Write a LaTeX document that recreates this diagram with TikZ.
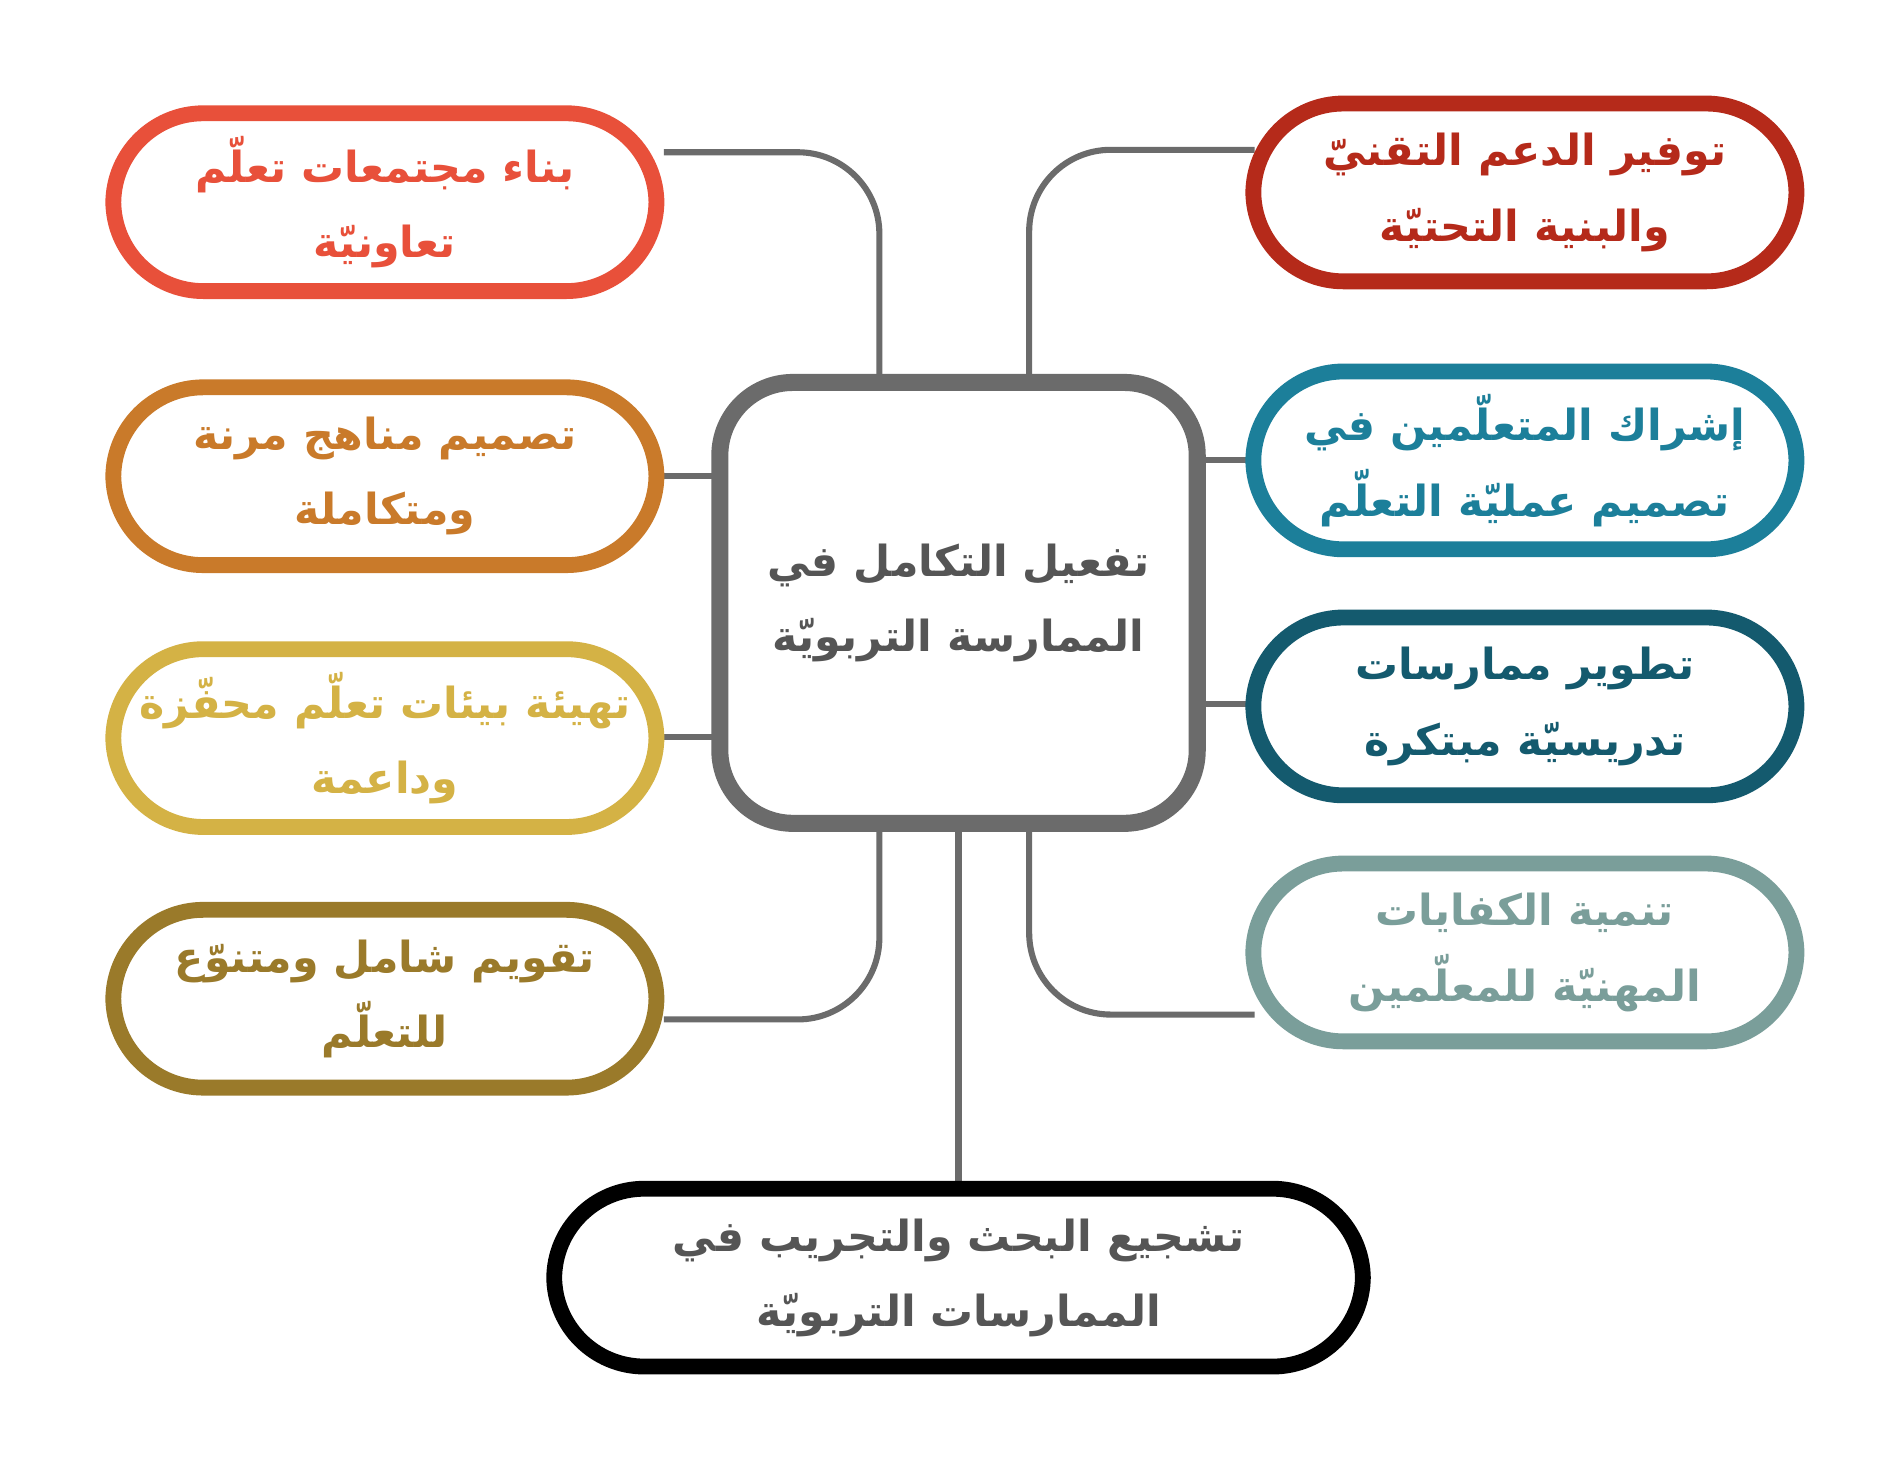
\documentclass[tikz,border=0pt]{standalone}
\usepackage{fontspec}
\TeXXeTstate=1
\newfontfamily\arabicfont[Script=Arabic]{DejaVu Sans}
\newcommand\AR[1]{\beginR #1\endR}
\definecolor{cC}{HTML}{6B6B6B}
\definecolor{cL1}{HTML}{E8503A}
\definecolor{cL2}{HTML}{C97A2A}
\definecolor{cL3}{HTML}{D4B245}
\definecolor{cL4}{HTML}{9A7A2A}
\definecolor{cR1}{HTML}{B52A1A}
\definecolor{cR2}{HTML}{1C7F9A}
\definecolor{cR3}{HTML}{145A6E}
\definecolor{cR4}{HTML}{7A9E9A}
\definecolor{cB}{HTML}{555555}
\begin{document}
\begin{tikzpicture}[x=0.05cm,y=-0.05cm,
  pill/.style={draw=#1,text=#1,line width=0.65cm,rectangle,rounded corners=3.7cm,
    minimum width=22.3cm,minimum height=7.3cm,align=center,fill=white,
    font=\arabicfont\bfseries\fontsize{50}{88}\selectfont},
  conn/.style={draw=cC,line width=0.25cm}]
\useasboundingbox[fill=white] (0,0) rectangle (1560,1206);
% connectors
\coordinate (a1) at (545,125); \coordinate (a2) at (1030,123);
\coordinate (a3) at (545,837); \coordinate (a4) at (1030,833);
\draw[conn,rounded corners=3.35cm] (a1) -- (722,125) -- (722,308);
\draw[conn,rounded corners=3.35cm] (a2) -- (845,123) -- (845,308);
\draw[conn,rounded corners=3.35cm] (a3) -- (722,837) -- (722,682);
\draw[conn,rounded corners=3.35cm] (a4) -- (845,833) -- (845,682);
\draw[conn] (545,391) -- (585,391);
\draw[conn] (545,605) -- (585,605);
\draw[conn] (990,378) -- (1025,378);
\draw[conn] (990,578) -- (1025,578);
\draw[conn] (787,682) -- (787,970);
% center
\node[draw=cC,text=cB,line width=0.7cm,rounded corners=3cm,minimum width=19.6cm,minimum height=18.1cm,
  align=center,fill=white,font=\arabicfont\bfseries\fontsize{50}{88}\selectfont] (c) at (787,495)
  {\AR{تفعيل التكامل في}\\\AR{الممارسة التربويّة}};
\node[pill=cL1] (l1) at (316,166) {\AR{بناء مجتمعات تعلّم}\\\AR{تعاونيّة}};
\node[pill=cL2] (l2) at (316,391) {\AR{تصميم مناهج مرنة}\\\AR{ومتكاملة}};
\node[pill=cL3] (l3) at (316,606) {\AR{تهيئة بيئات تعلّم محفّزة}\\\AR{وداعمة}};
\node[pill=cL4] (l4) at (316,820) {\AR{تقويم شامل ومتنوّع}\\\AR{للتعلّم}};
\node[pill=cR1] (r1) at (1252,158) {\AR{توفير الدعم التقنيّ}\\\AR{والبنية التحتيّة}};
\node[pill=cR2] (r2) at (1252,378) {\AR{إشراك المتعلّمين في}\\\AR{تصميم عمليّة التعلّم}};
\node[pill=cR3] (r3) at (1252,580) {\AR{تطوير ممارسات}\\\AR{تدريسيّة مبتكرة}};
\node[pill=cR4] (r4) at (1252,782) {\AR{تنمية الكفايات}\\\AR{المهنيّة للمعلّمين}};
\node[pill=black,text=cB,minimum width=33.2cm] (b) at (787,1049) {\AR{تشجيع البحث والتجريب في}\\\AR{الممارسات التربويّة}};
\end{tikzpicture}
\end{document}
